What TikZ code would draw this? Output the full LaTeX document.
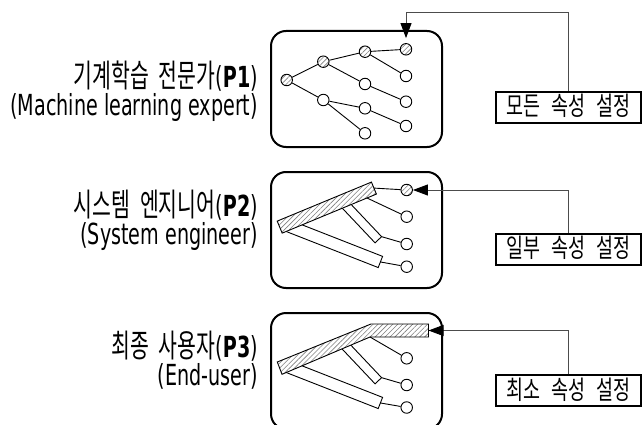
\documentclass[tikz,border=0pt]{standalone}
\usepackage{fontspec}
\setmainfont[FakeStretch=0.66]{DejaVu Sans}
\newfontfamily\krfont[FakeStretch=0.64,WordSpace=2.2]{Noto Sans CJK KR}
\newfontfamily\krbox[FakeStretch=0.71,WordSpace=2.6]{Noto Sans CJK KR}
\usetikzlibrary{arrows.meta}
\usetikzlibrary{patterns.meta}
\usetikzlibrary{calc}
\newcommand\kr[1]{{\krfont\fontsize{32}{28}\selectfont #1}}
\tikzset{
  panel/.style={draw,line width=2pt,rounded corners=15pt,
    minimum width=171pt,minimum height=116pt,inner sep=0},
  leaf/.style={draw,circle,line width=0.9pt,minimum size=11.5pt,inner sep=0,fill=white},
  hatch/.style={pattern={Lines[angle=45,distance=3.5pt,line width=0.6pt]},pattern color=gray},
  hleaf/.style={leaf,preaction={fill=white},hatch},
  rod/.style={draw,line width=0.9pt,fill=white,inner sep=0,outer sep=0},
  hrod/.style={rod,preaction={fill=white},hatch},
  link/.style={line width=0.9pt},
  feed/.style={draw=gray!60!black,line width=0.9pt,
    -{Triangle[length=15pt,width=11pt,color=black]}},
  who/.style={align=right,anchor=east,inner sep=0,font=\fontsize{29}{28}\selectfont},
  setbox/.style={draw,line width=2pt,minimum width=145pt,inner sep=0,
    text height=24pt,text depth=7pt,
    font=\krbox\fontsize{26}{28}\selectfont}
}

\begin{document}
\begin{tikzpicture}[x=1pt,y=-1pt]
  \path[use as bounding box,clip] (0,0) rectangle (642,425);

  \node[panel] (box1) at (356.5,89) {};
  \node[panel] (box2) at (356.5,230) {};
  \node[panel] (box3) at (356.5,371) {};

  \node[who] (who1) at (258,91) {\kr{기계학습 전문가}(\textbf{P1})\\(Machine learning expert)};
  \node[who] (who2) at (258,220) {\kr{시스템 엔지니어}(\textbf{P2})\\(System engineer)};
  \node[who] (who3) at (258,360.5) {\kr{최종 사용자}(\textbf{P3})\\(End-user)};

  \node[hleaf] (p1a) at (286.7,80) {};
  \node[hleaf] (p1b1) at (323.3,61.7) {};
  \node[leaf] (p1b2) at (323.3,100) {};
  \node[hleaf] (p1c1) at (365,51.7) {};
  \node[leaf] (p1c2) at (365,84) {};
  \node[leaf] (p1c3) at (365,108.3) {};
  \node[leaf] (p1c4) at (365,133.3) {};
  \node[hleaf] (p1d1) at (406,49.3) {};
  \node[leaf] (p1d2) at (406,76) {};
  \node[leaf] (p1d3) at (406,101.7) {};
  \node[leaf] (p1d4) at (406,126) {};
  \foreach \a/\b in {p1a/p1b1,p1a/p1b2,p1b1/p1c1,p1b1/p1c2,p1b2/p1c3,p1b2/p1c4,
                     p1c1/p1d1,p1c1/p1d2,p1c2/p1d3,p1c3/p1d4}
    \draw[link] (\a) -- (\b);

  \node[rod,minimum width=51.6pt,minimum height=9pt,rotate=-46.6] (p2r2) at (360.6,221) {};
  \node[rod,minimum width=99pt,minimum height=12pt,rotate=-21.4] (p2r3) at (334.3,243.9) {};
  \node[hrod,minimum width=102pt,minimum height=13pt,rotate=22.5] (p2r1) at (326.8,207.6) {};
  \node[hleaf] (p2d1) at (406.7,190) {};
  \node[leaf] (p2d2) at (406.7,216.7) {};
  \node[leaf] (p2d3) at (406.7,244) {};
  \node[leaf] (p2d4) at (406.7,266.7) {};
  \draw[link] (p2r1.east) -- (p2d1);
  \draw[link] ($(p2r1.south east)!.1!(p2r1.south west)$) -- (p2d2);
  \draw[link] (p2r2.north east) -- (p2d3);
  \draw[link] (p2r3.east) -- (p2d4);

  \node[rod,minimum width=51.6pt,minimum height=9pt,rotate=-46.6] (p3r2) at (360.6,362) {};
  \node[rod,minimum width=99pt,minimum height=12pt,rotate=-21.4] (p3r3) at (334.3,384.9) {};
  \draw[hrod] (277.3,362) -- (371,324) -- (428.5,324) -- (428.5,337)
    -- (370,337) coordinate (p3knee) -- (282,374.3) -- cycle;
  \coordinate (p3tip) at (428.5,330.5);
  \node[leaf] (p3d2) at (406.7,358.3) {};
  \node[leaf] (p3d3) at (406.7,385) {};
  \node[leaf] (p3d4) at (406.7,407.5) {};
  \draw[link] (p3knee) -- (p3d2);
  \draw[link] (p3r2.north east) -- (p3d3);
  \draw[link] (p3r3.east) -- (p3d4);

  \node[setbox] (lab1) at (568.5,107.5) {모든 속성 설정};
  \node[setbox] (lab2) at (568.5,249) {일부 속성 설정};
  \node[setbox] (lab3) at (568.5,390.5) {최소 속성 설정};

  \draw[feed] (lab1.north) -- ++(0,-79) -| ([yshift=5pt]p1d1.north);
  \draw[feed] (lab2.north) |- (p2d1.east);
  \draw[feed] (lab3.north) |- (p3tip);
\end{tikzpicture}
\end{document}
